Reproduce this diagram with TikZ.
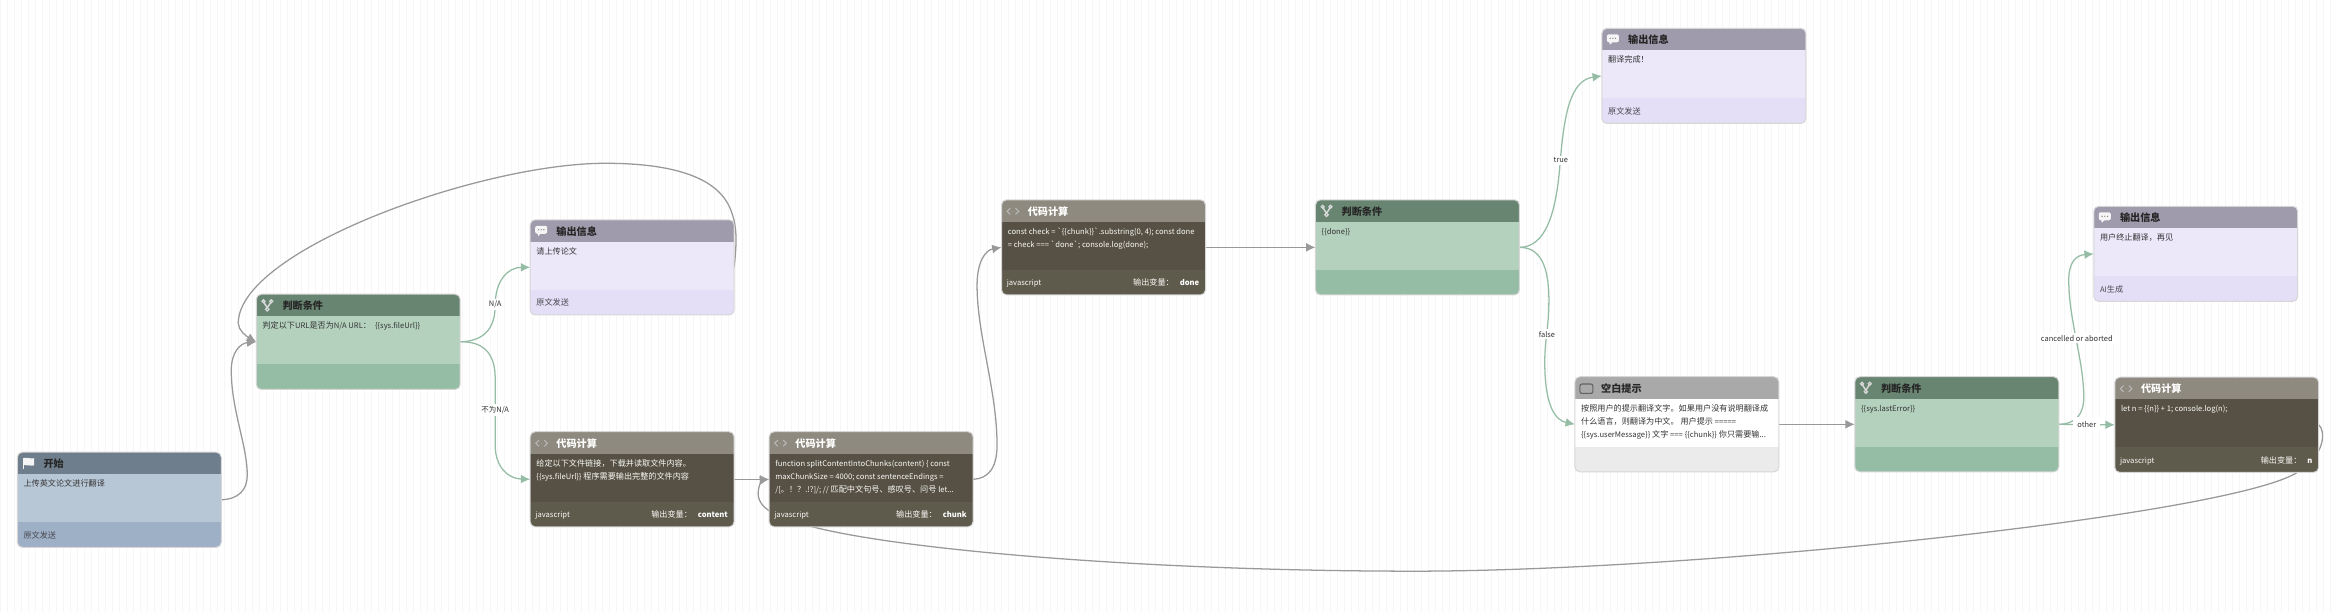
\documentclass[tikz,border=0pt]{standalone}
\usepackage{fontspec}
\usetikzlibrary{arrows.meta,backgrounds,calc}
\newfontfamily\cardfont{Noto Sans CJK SC}
\newcommand{\lat}[1]{{\fontsize{5.72pt}{8pt}\selectfont #1}}
\definecolor{startH}{HTML}{6F7E8C}\definecolor{startB}{HTML}{B8C7D6}\definecolor{startF}{HTML}{9EB0C6}
\definecolor{condH}{HTML}{688571}\definecolor{condB}{HTML}{B4D1BD}\definecolor{condF}{HTML}{95BDA5}
\definecolor{msgH}{HTML}{A09BAC}\definecolor{msgB}{HTML}{ECE8FA}\definecolor{msgF}{HTML}{E4DFF6}
\definecolor{codeH}{HTML}{8E8A7F}\definecolor{codeB}{HTML}{565144}\definecolor{codeF}{HTML}{5E5A4C}
\definecolor{blankH}{HTML}{A9A9A9}\definecolor{blankB}{HTML}{FFFFFF}\definecolor{blankF}{HTML}{EBEBEB}
\definecolor{gridc}{HTML}{F6F6F7}\definecolor{gedge}{HTML}{95BDA5}\definecolor{grayedge}{HTML}{999999}
\definecolor{lightT}{HTML}{FAFAF6}\definecolor{darkT}{HTML}{333333}\definecolor{footT}{HTML}{484850}
\pgfdeclarelayer{edges}\pgfdeclarelayer{gridlayer}\pgfsetlayers{gridlayer,edges,main}
\tikzset{
  x=.75pt,y=-.75pt,
  cardbox/.style n args={3}{draw=black!16,line width=.75pt,rounded corners=3.75pt,anchor=north west,inner sep=0,outer sep=0,
    minimum width=153pt,minimum height=71.4pt,
    path picture={
      \coordinate (pa) at (path picture bounding box.north west);
      \coordinate (pb) at (path picture bounding box.south east);
      \fill[#1,sharp corners] (pa) rectangle ([yshift=-16.5pt]pb|-pa);
      \fill[#2,sharp corners] ([yshift=-16.5pt]pa) rectangle ([yshift=-52.5pt]pb|-pa);
      \fill[#3,sharp corners] ([yshift=-52.5pt]pa) rectangle (pb);
    }},
  cardtext/.style={anchor=base west,inner sep=0,font=\cardfont\fontsize{6.1pt}{8pt}\selectfont},
  cardright/.style={anchor=base east,inner sep=0,font=\cardfont\fontsize{6.1pt}{8pt}\selectfont},
  cardtitle/.style={anchor=base west,inner sep=0,font=\cardfont\bfseries\fontsize{7.6pt}{9pt}\selectfont},
  grayline/.style={draw=grayedge,line width=.95pt,-{Latex[length=7pt,width=6.6pt]}},
  greenline/.style={draw=gedge,line width=.95pt,-{Latex[length=7pt,width=6.6pt]}},
  edgelabel/.style={fill=white,inner sep=1.5pt,text=darkT,font=\cardfont\fontsize{5.6pt}{7pt}\selectfont},
}
\newcommand{\card}[6]{%
  \node[cardbox={#4H}{#4B}{#4F}] (#1) at (#2,#3) {};
  \node[cardtitle,text=#5] (#1-title) at ([shift={(26,15.5)}]#1.north west) {#6};
}
\newcommand{\bline}[4]{\node[cardtext,text=#3] (#1-l#2) at ([shift={(6,{21.5+13*#2})}]#1.north west) {#4};}
\newcommand{\bfoot}[3]{\node[cardtext,text=#2] (#1-foot) at ([shift={(6,86)}]#1.north west) {#3};}
\newcommand{\bout}[2]{%
  \node[cardtext,text=lightT] (#1-foot) at ([shift={(5,86)}]#1.north west) {\lat{javascript}};
  \node[cardright,text=white] (#1-out) at ([shift={(198,86)}]#1.north west) {\textcolor{lightT}{输出变量：}\hspace{4.5pt}\bfseries\lat{#2}};
}
\newcommand{\iconflag}[1]{\begin{scope}[shift={(#1.north west)}]
  \fill[white!96!black] (5.5,5.3) -- (6.7,5.3) -- (6.7,17) -- (5.5,17) -- cycle;
  \fill[white!96!black] (6.7,5.6) .. controls (10,4.8) and (13,7) .. (16.8,6) -- (16.8,13.2) .. controls (13,14.2) and (10,12) .. (6.7,13) -- cycle;
\end{scope}}
\newcommand{\iconbranch}[1]{\begin{scope}[shift={(#1.north west)}]
  \draw[white!85!black,line width=1.1pt] (7.4,7.6) .. controls (7.4,11) and (11,10.5) .. (11,13.5) (14.8,7.6) .. controls (14.8,11) and (11,10.5) .. (11,13.5);
  \draw[white!85!black,line width=.9pt] (7.2,7) circle (1.5) (15,7) circle (1.5) (11,15) circle (1.7);
\end{scope}}
\newcommand{\iconchat}[1]{\begin{scope}[shift={(#1.north west)}]
  \fill[white!96!black,rounded corners=1.5pt] (5,6) rectangle (17,14);
  \fill[white!96!black] (7.5,13.5) -- (11,13.5) -- (8,16.5) -- cycle;
  \fill[gray] (8.3,10) circle (.7) (11,10) circle (.7) (13.7,10) circle (.7);
\end{scope}}
\newcommand{\iconcode}[1]{\begin{scope}[shift={(#1.north west)}]
  \draw[white!72!black,line width=.8pt] (8.8,8.4) -- (5.6,11.5) -- (8.8,14.6) (14,8.4) -- (17.2,11.5) -- (14,14.6);
  \fill[white!72!black] (11.4,11.5) circle (.5);
\end{scope}}
\newcommand{\iconblank}[1]{\begin{scope}[shift={(#1.north west)}]
  \draw[black!62,line width=.8pt,rounded corners=1.5pt] (5,7.3) rectangle (18,16.7);
\end{scope}}
\begin{document}
\begin{tikzpicture}
\begin{pgfonlayer}{gridlayer}
  \fill[white] (0,0) rectangle (2336,612);
  \draw[gridc,line width=.5pt,step=7] (0,0) grid (2336,612);
\end{pgfonlayer}
\useasboundingbox (0,0) rectangle (2336,612);

\card{start}{17}{452}{start}{black!85}{开始}
\iconflag{start}\bline{start}{1}{darkT}{上传英文论文进行翻译}\bfoot{start}{footT}{原文发送}

\card{condA}{256}{294}{cond}{black!85}{判断条件}
\iconbranch{condA}\bline{condA}{1}{darkT}{判定以下\lat{URL}是否为\lat{N/A URL}：\hspace{3pt}\lat{\{\{sys.fileUrl\}\}}}

\card{msgA}{530}{219.5}{msg}{black!85}{输出信息}
\iconchat{msgA}\bline{msgA}{1}{darkT}{请上传论文}\bfoot{msgA}{footT}{原文发送}

\card{codeA}{530}{431.5}{code}{white}{代码计算}
\iconcode{codeA}
\bline{codeA}{1}{lightT}{给定以下文件链接，下载并读取文件内容。}
\bline{codeA}{2}{lightT}{\lat{\{\{sys.fileUrl\}\}} 程序需要输出完整的文件内容}
\bout{codeA}{content}

\card{codeB}{769}{431.5}{code}{white}{代码计算}
\iconcode{codeB}
\bline{codeB}{1}{lightT}{\lat{function splitContentIntoChunks(content) \{ const}}
\bline{codeB}{2}{lightT}{\lat{maxChunkSize = 4000; const sentenceEndings =}}
\bline{codeB}{3}{lightT}{\lat{/[}。！？\lat{.!?]/; //} 匹配中文句号、感叹号、问号 \lat{let...}}
\bout{codeB}{chunk}

\card{codeC}{1001.5}{199.5}{code}{white}{代码计算}
\iconcode{codeC}
\bline{codeC}{1}{lightT}{\lat{const check = `\{\{chunk\}\}`.substring(0, 4); const done}}
\bline{codeC}{2}{lightT}{\lat{= check === `done`; console.log(done);}}
\bout{codeC}{done}

\card{condB}{1315.5}{199.5}{cond}{black!85}{判断条件}
\iconbranch{condB}\bline{condB}{1}{darkT}{\lat{\{\{done\}\}}}

\card{msgB}{1602}{28}{msg}{black!85}{输出信息}
\iconchat{msgB}\bline{msgB}{1}{darkT}{翻译完成！}\bfoot{msgB}{footT}{原文发送}

\card{prompt}{1575}{376.5}{blank}{black!85}{空白提示}
\iconblank{prompt}
\bline{prompt}{1}{darkT}{按照用户的提示翻译文字。如果用户没有说明翻译成}
\bline{prompt}{2}{darkT}{什么语言，则翻译为中文。 用户提示 \lat{=====}}
\bline{prompt}{3}{darkT}{\lat{\{\{sys.userMessage\}\}} 文字 \lat{===} \lat{\{\{chunk\}\}} 你只需要输\lat{...}}

\card{condC}{1855}{376.5}{cond}{black!85}{判断条件}
\iconbranch{condC}\bline{condC}{1}{darkT}{\lat{\{\{sys.lastError\}\}}}

\card{msgC}{2094}{206}{msg}{black!85}{输出信息}
\iconchat{msgC}\bline{msgC}{1}{darkT}{用户终止翻译，再见}\bfoot{msgC}{footT}{\lat{AI}生成}

\card{codeD}{2115}{377}{code}{white}{代码计算}
\iconcode{codeD}
\bline{codeD}{1}{lightT}{\lat{let n = \{\{n\}\} + 1; console.log(n);}}
\bout{codeD}{n}

\begin{pgfonlayer}{edges}
\draw[grayline] (start.east) .. controls (238,499) and (247,490) .. (247,475) .. controls (247,445) and (231,410) .. (231,370) .. controls (231,352) and (240,343) .. (condA.west);
\draw[grayline] (msgA.east) .. controls (737,240) and (737,225) .. (730,208) .. controls (718,180) and (680,163) .. (605,163) .. controls (480,163) and (238,250) .. (238,323) .. controls (238,330) and (246,336) .. (condA.west);
\draw[greenline] (condA.east) .. controls (482,341) and (495,330) .. (495,305) .. controls (495,280) and (508,267) .. (msgA.west);
\draw[greenline] (condA.east) .. controls (482,341) and (495,352) .. (495,378) -- (495,445) .. controls (495,467) and (508,478.5) .. (codeA.west);
\draw[grayline] (codeA.east) -- (codeB.west);
\draw[grayline] (codeB.east) .. controls (988,478.5) and (997,468) .. (997,445) .. controls (997,390) and (977,335) .. (977,285) .. controls (977,262) and (985,250) .. (codeC.west);
\draw[grayline] (codeC.east) -- (condB.west);
\draw[greenline] (condB.east) .. controls (1545,247) and (1556,215) .. (1560,165) .. controls (1564,115) and (1570,80) .. (msgB.west);
\draw[greenline] (condB.east) .. controls (1540,247) and (1549,265) .. (1549,300) .. controls (1549,330) and (1544,340) .. (1545,370) .. controls (1546,405) and (1555,420) .. (prompt.west);
\draw[grayline] (prompt.east) -- (condC.west);
\draw[greenline] (condC.east) .. controls (2075,424) and (2084,415) .. (2084,397) .. controls (2084,360) and (2069,320) .. (2069,280) .. controls (2069,262) and (2076,255) .. (msgC.west);
\draw[greenline] (condC.east) -- (codeD.west);
\draw[grayline] (codeD.east) .. controls (2326,430) and (2326,455) .. (2298,472) .. controls (2230,515) and (1700,571) .. (1415,571) .. controls (1150,571) and (900,550) .. (810,526) .. controls (780,518) and (758,510) .. (758,493) .. controls (758,486) and (762,480) .. (codeB.west);
\node[edgelabel] (lblA) at (495,304) {N/A};
\node[edgelabel] (lblB) at (495,410) {不为N/A};
\node[edgelabel] (lblC) at (1561,160) {true};
\node[edgelabel] (lblD) at (1547,334) {false};
\node[edgelabel] (lblE) at (2077,338) {cancelled or aborted};
\node[edgelabel,inner sep=3pt] (lblF) at (2087,424) {other};
\end{pgfonlayer}
\end{tikzpicture}
\end{document}
